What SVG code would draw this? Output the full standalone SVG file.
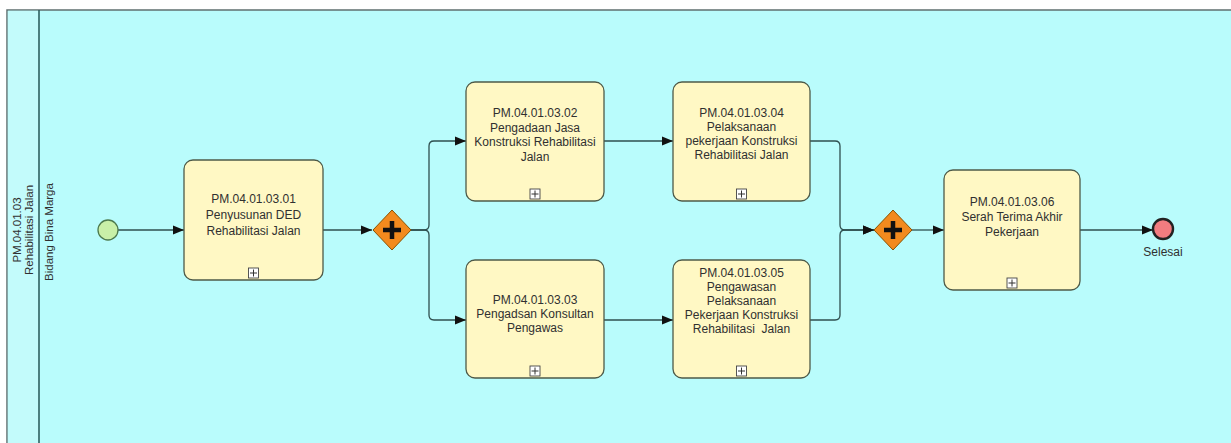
<svg xmlns="http://www.w3.org/2000/svg" width="1231" height="443" viewBox="0 0 1231 443">
<style>
.txt{font-family:"Liberation Sans",Arial,sans-serif;font-size:12px;fill:#303030;text-anchor:middle}
.lbl{font-family:"Liberation Sans",Arial,sans-serif;font-size:11.5px;fill:#303030;text-anchor:middle}
.task{fill:#fff8c4;stroke:#4e5a48;stroke-width:1.3}
.conn{fill:none;stroke:#2f4f4f;stroke-width:1.3}
.gw{fill:#f28a1e;stroke:#8a5200;stroke-width:1}
.cross{stroke:#111;stroke-width:4.5;fill:none}
.mk{fill:#fff;stroke:#444;stroke-width:0.9}
</style>
<defs>
<marker id="arr" markerUnits="userSpaceOnUse" markerWidth="12" markerHeight="10" refX="11" refY="5" orient="auto">
<path d="M0,0.5 L11,5 L0,9.5 Z" fill="#111"/>
</marker>
<g id="plus">
<rect x="-5" y="-5" width="10" height="10" class="mk"/>
<path d="M-3.5,0 H3.5 M0,-3.5 V3.5" stroke="#333" stroke-width="1"/>
</g>
</defs>
<rect x="0" y="0" width="1231" height="443" fill="#ffffff"/>
<g id="pool">
<rect x="7" y="10" width="1230" height="440" fill="#b9fcfc" stroke="#5f6f6f" stroke-width="1.5"/>
<rect x="7.8" y="10.8" width="31" height="440" fill="#c3fbfb"/>
<line x1="39" y1="10" x2="39" y2="443" stroke="#2f5f5f" stroke-width="1.6"/>
<text class="lbl" transform="translate(21,230) rotate(-90)">PM.04.01.03</text>
<text class="lbl" transform="translate(33,230) rotate(-90)">Rehabilitasi Jalan</text>
<text class="lbl" transform="translate(53,232) rotate(-90)">Bidang Bina Marga</text>
</g>
<g id="connectors">
<path class="conn" d="M118,230 H184" marker-end="url(#arr)"/>
<path class="conn" d="M323,230 H372" marker-end="url(#arr)"/>
<path class="conn" d="M411,230 H424 Q429,230 429,225 V146 Q429,141 434,141 H466" marker-end="url(#arr)"/>
<path class="conn" d="M411,230 H424 Q429,230 429,235 V315 Q429,320 434,320 H466" marker-end="url(#arr)"/>
<path class="conn" d="M604,141 H673" marker-end="url(#arr)"/>
<path class="conn" d="M604,320 H673" marker-end="url(#arr)"/>
<path class="conn" d="M810,141 H835 Q840,141 840,146 V225 Q840,230 845,230 H874" marker-end="url(#arr)"/>
<path class="conn" d="M810,320 H835 Q840,320 840,315 V235 Q840,230 845,230 H874" marker-end="url(#arr)"/>
<path class="conn" d="M912,230 H944" marker-end="url(#arr)"/>
<path class="conn" d="M1080,230 H1153" marker-end="url(#arr)"/>
</g>
<g id="start">
<circle cx="108" cy="230" r="10" fill="#c9f0a8" stroke="#4d7a4d" stroke-width="1.3"/>
</g>
<g id="task1">
<rect class="task" x="184" y="160" width="139" height="120" rx="9"/>
<text class="txt" x="253.5" y="203">PM.04.01.03.01</text>
<text class="txt" x="253.5" y="219">Penyusunan DED</text>
<text class="txt" x="253.5" y="235">Rehabilitasi Jalan</text>
<use href="#plus" x="253.5" y="273"/>
</g>
<g id="gateway1">
<path class="gw" d="M392,210 L411,230 L392,250 L373,230 Z"/>
<path class="cross" d="M383,230 H401 M392,221 V239"/>
</g>
<g id="task2">
<rect class="task" x="466" y="82" width="138" height="119" rx="9"/>
<text class="txt" x="535" y="117">PM.04.01.03.02</text>
<text class="txt" x="535" y="131.5">Pengadaan Jasa</text>
<text class="txt" x="535" y="146">Konstruksi Rehabilitasi</text>
<text class="txt" x="535" y="160.5">Jalan</text>
<use href="#plus" x="535" y="194"/>
</g>
<g id="task3">
<rect class="task" x="466" y="260" width="138" height="118" rx="9"/>
<text class="txt" x="535" y="304">PM.04.01.03.03</text>
<text class="txt" x="535" y="318">Pengadsan Konsultan</text>
<text class="txt" x="535" y="332">Pengawas</text>
<use href="#plus" x="535" y="371"/>
</g>
<g id="task4">
<rect class="task" x="673" y="82" width="137" height="119" rx="9"/>
<text class="txt" x="741.5" y="117">PM.04.01.03.04</text>
<text class="txt" x="741.5" y="131">Pelaksanaan</text>
<text class="txt" x="741.5" y="145">pekerjaan Konstruksi</text>
<text class="txt" x="741.5" y="159">Rehabilitasi Jalan</text>
<use href="#plus" x="741.5" y="194"/>
</g>
<g id="task5">
<rect class="task" x="673" y="260" width="137" height="118" rx="9"/>
<text class="txt" x="741.5" y="277">PM.04.01.03.05</text>
<text class="txt" x="741.5" y="291">Pengawasan</text>
<text class="txt" x="741.5" y="305">Pelaksanaan</text>
<text class="txt" x="741.5" y="319">Pekerjaan Konstruksi</text>
<text class="txt" x="741.5" y="333" xml:space="preserve">Rehabilitasi  Jalan</text>
<use href="#plus" x="741.5" y="371"/>
</g>
<g id="gateway2">
<path class="gw" d="M893,210 L912,230 L893,250 L874,230 Z"/>
<path class="cross" d="M884,230 H902 M893,221 V239"/>
</g>
<g id="task6">
<rect class="task" x="944" y="170" width="136" height="120" rx="9"/>
<text class="txt" x="1012" y="206">PM.04.01.03.06</text>
<text class="txt" x="1012" y="221">Serah Terima Akhir</text>
<text class="txt" x="1012" y="236">Pekerjaan</text>
<use href="#plus" x="1012" y="283"/>
</g>
<g id="end">
<circle cx="1163" cy="229" r="10" fill="#f27c80" stroke="#222" stroke-width="2.4"/>
<text class="txt" x="1163" y="256">Selesai</text>
</g>
</svg>
